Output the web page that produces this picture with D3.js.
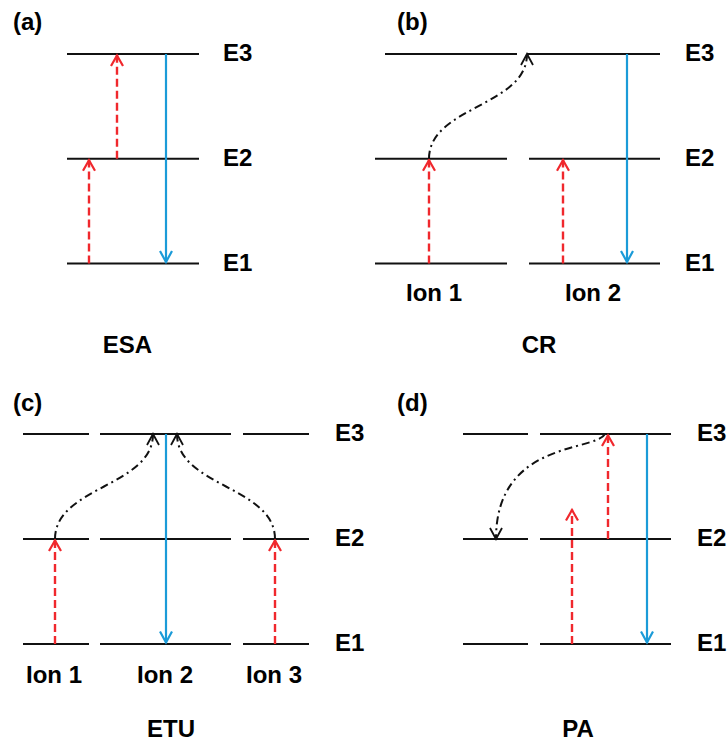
<!DOCTYPE html>
<html>
<head>
<meta charset="utf-8">
<script src="https://cdn.jsdelivr.net/npm/d3@7"></script>
<style>
  html, body { margin: 0; padding: 0; background: #ffffff; }
  svg { display: block; }
  text { font-family: "Liberation Sans", Arial, Helvetica, sans-serif; font-weight: bold; fill: #000; }
</style>
</head>
<body>
<svg id="chart" width="728" height="743"></svg>
<script>
// Four up-conversion mechanisms, each drawn as a three-level scheme.
const panelTags = ["(a)", "(b)", "(c)", "(d)"];
const processNames = ["ESA", "CR", "ETU", "PA"];
const levelNames = ["E1", "E2", "E3"];
const levelEnergies = [1, 2, 3];

// Ion columns per panel, in panel units: [panel, ion name, left, right]
const ionColumns = [
  [0, "", 67, 199],
  [1, "Ion 1", 11, 143],
  [1, "Ion 2", 165, 296],
  [2, "Ion 1", 23, 89],
  [2, "Ion 2", 100, 231],
  [2, "Ion 3", 243, 309],
  [3, "", 99, 164],
  [3, "", 176, 307]
];

// Level segments that differ from their ion column: [panel, level, left, right]
const levelOverrides = [
  [1, 3, 21, 153],
  [1, 3, 163, 296]
];

// Ion label centres, panel units
const ionLabelCentres = [
  [1, "Ion 1", 70], [1, "Ion 2", 229],
  [2, "Ion 1", 54], [2, "Ion 2", 165], [2, "Ion 3", 274]
];

// Pump absorption (red dashed, upward): [panel, x, from energy, to energy]
const pumps = [
  [0, 89, 1, 2], [0, 117, 2, 3],
  [1, 65, 1, 2], [1, 199, 1, 2],
  [2, 55, 1, 2], [2, 275, 1, 2],
  [3, 208, 1, 2.29], [3, 244, 2, 3]
];

// Emission (blue solid, downward): [panel, x, from energy, to energy]
const emissions = [
  [0, 166, 3, 1],
  [1, 263, 3, 1],
  [2, 166, 3, 1],
  [3, 283, 3, 1]
];

// Energy transfer (black dash-dot curves): [panel, x0, from, x1, to, shape]
const transfers = [
  [1, 65, 2, 163, 3, "s"],
  [2, 55, 2, 153, 3, "s"],
  [2, 275, 2, 177, 3, "s"],
  [3, 241, 3, 132, 2, "arc"]
];

// Label positions for E-levels, one per panel (panel units)
const levelLabelX = [223, 321, 335, 333];

const RED = "#f0282d", BLUE = "#1b9bd8", INK = "#111111";

const svg = d3.select("#chart");
const panelW = 364, panelH = 380;
const panelOrigin = i => [(i % 2) * panelW, Math.floor(i / 2) * panelH];

// Horizontal: panel units map straight into the panel; vertical: energy → y
const x = d3.scaleLinear().domain([0, panelW]).range([0, panelW]);
const yTop = d3.scaleLinear().domain([1, 3]).range([263.5, 54]);
const yBottom = d3.scaleLinear().domain([1, 3]).range([264, 54]);
const yFor = p => (p < 2 ? yTop : yBottom);

function chevron(g, tip, from, half, len, color, width) {
  const dx = tip[0] - from[0], dy = tip[1] - from[1];
  const m = Math.hypot(dx, dy) || 1;
  const ux = dx / m, uy = dy / m, nx = -uy, ny = ux;
  const bx = tip[0] - len * ux, by = tip[1] - len * uy;
  g.append("path")
    .attr("d", d3.line()([[bx + half * nx, by + half * ny], tip, [bx - half * nx, by - half * ny]]))
    .attr("fill", "none")
    .attr("stroke", color)
    .attr("stroke-width", width)
    .attr("stroke-linejoin", "miter")
    .attr("stroke-linecap", "butt");
}

panelTags.forEach((tag, p) => {
  const [ox, oy] = panelOrigin(p);
  const g = svg.append("g").attr("transform", `translate(${ox},${oy})`);
  const y = yFor(p);
  const row = Math.floor(p / 2);

  g.append("text").attr("x", x(13 + (p % 2) * 20)).attr("y", row ? 31 : 30)
    .attr("font-size", 24).text(tag);

  // Energy levels
  const cols = ionColumns.filter(c => c[0] === p);
  levelEnergies.forEach(e => {
    const overrides = levelOverrides.filter(o => o[0] === p && o[1] === e);
    const segs = overrides.length ? overrides.map(o => [o[2], o[3]]) : cols.map(c => [c[2], c[3]]);
    segs.forEach(([a, b]) => {
      g.append("line")
        .attr("x1", x(a)).attr("x2", x(b))
        .attr("y1", y(e)).attr("y2", y(e))
        .attr("stroke", INK).attr("stroke-width", 2);
    });
  });

  // Level names
  levelNames.forEach((name, i) => {
    g.append("text").attr("x", x(levelLabelX[p])).attr("y", y(levelEnergies[i]) + 7)
      .attr("font-size", 24).text(name);
  });

  // Pump arrows
  pumps.filter(d => d[0] === p).forEach(([, px, f, t]) => {
    g.append("line")
      .attr("x1", x(px)).attr("x2", x(px))
      .attr("y1", y(f)).attr("y2", y(t) + 1)
      .attr("stroke", RED).attr("stroke-width", 2.4)
      .attr("stroke-dasharray", "8,4");
    chevron(g, [x(px), y(t) + 1.5], [x(px), y(f)], 6, 10.5, RED, 2.2);
  });

  // Emission arrows
  emissions.filter(d => d[0] === p).forEach(([, px, f, t]) => {
    g.append("line")
      .attr("x1", x(px)).attr("x2", x(px))
      .attr("y1", y(f)).attr("y2", y(t) - 1)
      .attr("stroke", BLUE).attr("stroke-width", 2.2);
    chevron(g, [x(px), y(t) - 1.5], [x(px), y(f)], 6, 11, BLUE, 2.2);
  });

  // Energy transfer curves
  transfers.filter(d => d[0] === p).forEach(([, x0, f, x1, t, shape]) => {
    const P0 = [x(x0), y(f)], P3 = [x(x1), y(t)];
    let C1, C2;
    if (shape === "s") {
      const ym = (P0[1] + P3[1]) / 2;
      C1 = [P0[0], ym];
      C2 = [P3[0], ym];
    } else {
      const dx = P3[0] - P0[0], dy = P3[1] - P0[1];
      C1 = [P0[0] + 0.09 * dx, P0[1] + 0.17 * dy];
      C2 = [P3[0], P0[1] + 0.06 * dy];
    }
    const path = d3.path();
    path.moveTo(...P0);
    path.bezierCurveTo(...C1, ...C2, ...P3);
    g.append("path").attr("d", path.toString())
      .attr("fill", "none").attr("stroke", INK).attr("stroke-width", 2)
      .attr("stroke-dasharray", "8,4,2,4");
    chevron(g, P3, C2, 6, 11, INK, 1.8);
  });

  // Ion names
  ionLabelCentres.filter(d => d[0] === p).forEach(([, name, cx]) => {
    g.append("text").attr("x", x(cx)).attr("y", row ? 303 : 301)
      .attr("text-anchor", "middle").attr("font-size", 24).text(name);
  });

  // Mechanism name
  const nameX = [127.5, 175, 171, 214][p];
  g.append("text").attr("x", x(nameX)).attr("y", row ? 357 : 353)
    .attr("text-anchor", "middle").attr("font-size", 24).text(processNames[p]);
});
</script>
</body>
</html>
